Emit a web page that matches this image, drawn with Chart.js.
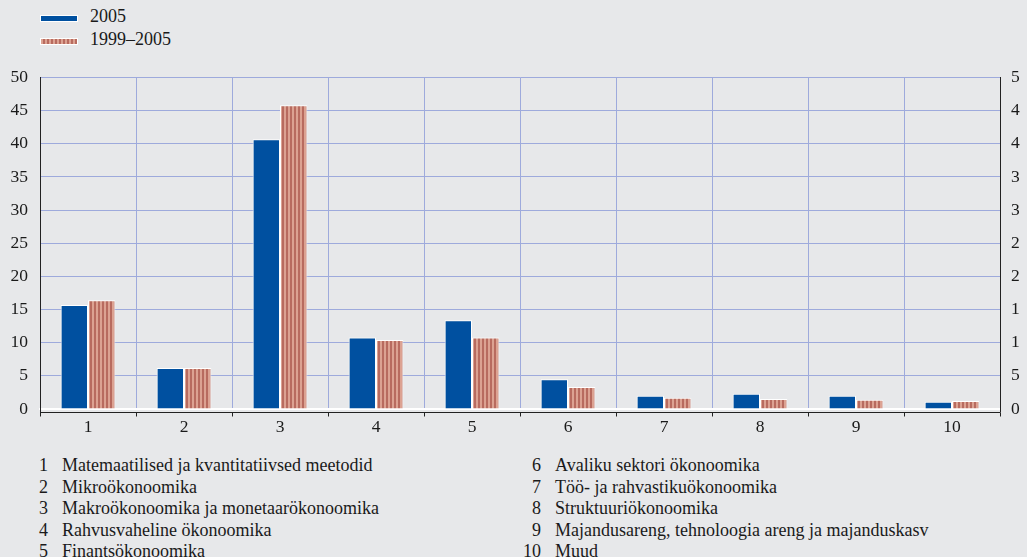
<!DOCTYPE html>
<html>
<head>
<meta charset="utf-8">
<script src="https://cdn.jsdelivr.net/npm/chart.js@4/dist/chart.umd.min.js"></script>
<style>
  html, body { margin:0; padding:0; background:#e7e8ea; overflow:hidden; width:1027px; height:557px; }
  body { position:relative; font-family:"Liberation Serif", "Times New Roman", serif; color:#1a1a1a; }
  #clip { position:absolute; left:0; top:55px; width:1020px; height:390px; overflow:hidden; }
  #wrap { position:absolute; left:0; top:0; width:1045px; height:390px; }
  .leg { position:absolute; left:40px; font-size:18px; line-height:20px; }
  .leg .sw { position:absolute; left:0; width:36px; height:5px; border:1px solid #fff; }
  .leg .tx { position:absolute; left:50px; top:-9px; white-space:nowrap; }
  .notes { position:absolute; top:455px; font-size:18px; line-height:21.5px; }
  .notes div { white-space:nowrap; }
  .notes .n { display:inline-block; width:20px; text-align:right; margin-right:14px; }
</style>
</head>
<body>
<div class="leg" style="top:15px"><div class="sw" style="background:#0050a0"></div><div class="tx">2005</div></div>
<div class="leg" style="top:38px"><div class="sw" style="background:repeating-linear-gradient(90deg,#dca292 0 2px,#b86b5f 2px 4px)"></div><div class="tx">1999–2005</div></div>
<div id="clip"><div id="wrap"><canvas id="c"></canvas></div></div>
<div class="notes" id="notesL" style="left:28px"></div>
<div class="notes" id="notesR" style="left:521px"></div>
<script>
const categories = ["1","2","3","4","5","6","7","8","9","10"];
const seriesNames = ["2005","1999–2005"];
const values2005 = [15.7, 6.2, 40.7, 10.8, 13.4, 4.5, 2.0, 2.3, 2.0, 1.1];
const values1999_2005 = [16.4, 6.2, 45.8, 10.4, 10.8, 3.3, 1.7, 1.5, 1.4, 1.2];
const yTicks = [0,5,10,15,20,25,30,35,40,45,50];
const categoryNames = [
  "Matemaatilised ja kvantitatiivsed meetodid",
  "Mikroökonoomika",
  "Makroökonoomika ja monetaarökonoomika",
  "Rahvusvaheline ökonoomika",
  "Finantsökonoomika",
  "Avaliku sektori ökonoomika",
  "Töö- ja rahvastikuökonoomika",
  "Struktuuriökonoomika",
  "Majandusareng, tehnoloogia areng ja majanduskasv",
  "Muud"
];

const nl = document.getElementById('notesL'), nr = document.getElementById('notesR');
categoryNames.forEach((t,i)=>{
  const d = document.createElement('div');
  d.innerHTML = '<span class="n">'+categories[i]+'</span>'+t;
  (i<5?nl:nr).appendChild(d);
});

const pc = document.createElement('canvas'); pc.width=4; pc.height=4;
const px = pc.getContext('2d');
px.fillStyle='#dca292'; px.fillRect(0,0,4,4);
px.fillStyle='#b86b5f'; px.fillRect(2,0,2,4);
const pattern = px.createPattern(pc,'repeat');

const gridBlue = '#9eaadc';
const font = {family:'"Liberation Serif", "Times New Roman", serif', size:17.5};

const axisHooks = {
  id:'axisHooks',
  afterDraw(chart){
    const {ctx, chartArea:a} = chart;
    ctx.save();
    ctx.strokeStyle='#222'; ctx.lineWidth=1;
    const y = a.bottom + 3.5;
    ctx.beginPath();
    ctx.moveTo(a.left, y); ctx.lineTo(a.right, y);
    const w = (a.right - a.left)/categories.length;
    for(let i=0;i<=categories.length;i++){
      const xx = Math.round(a.left + i*w)+0.5;
      ctx.moveTo(xx, y); ctx.lineTo(xx, y+4);
    }
    ctx.moveTo(a.left+0.5, a.top); ctx.lineTo(a.left+0.5, y);
    ctx.moveTo(a.right+0.5, a.top); ctx.lineTo(a.right+0.5, y);
    ctx.stroke();
    ctx.restore();
  }
};

new Chart(document.getElementById('c'), {
  type:'bar',
  data:{
    labels:categories,
    datasets:[
      {label:seriesNames[0], data:values2005, backgroundColor:'#0050a0', borderColor:'#ffffff', borderWidth:1},
      {label:seriesNames[1], data:values1999_2005, backgroundColor:pattern, borderColor:'#ffffff', borderWidth:1}
    ]
  },
  options:{
    responsive:true, maintainAspectRatio:false, animation:false,
    layout:{padding:{top:22, left:0, right:0, bottom:0}},
    categoryPercentage:0.57, barPercentage:1.0,
    plugins:{legend:{display:false}, tooltip:{enabled:false}},
    scales:{
      x:{
        grid:{color:gridBlue, lineWidth:1, drawTicks:false, offset:true},
        border:{display:true, color:'#ffffff', width:2},
        ticks:{color:'#1a1a1a', font, padding:8},
        afterFit(s){ s.height = 36; }
      },
      y:{
        position:'left', min:0, max:50,
        afterBuildTicks(s){ s.ticks = yTicks.map(v=>({value:v})); },
        grid:{color:gridBlue, lineWidth:1, drawTicks:false},
        border:{display:true, color:'#222', width:1},
        ticks:{color:'#1a1a1a', font, padding:12},
        afterFit(s){ s.width = 40; }
      },
      y2:{
        position:'right', min:0, max:50,
        afterBuildTicks(s){ s.ticks = yTicks.map(v=>({value:v})); },
        grid:{display:false, drawTicks:false},
        border:{display:true, color:'#222', width:1},
        ticks:{color:'#1a1a1a', font, padding:11},
        afterFit(s){ s.width = 45; }
      }
    }
  },
  plugins:[axisHooks]
});
</script>
</body>
</html>
